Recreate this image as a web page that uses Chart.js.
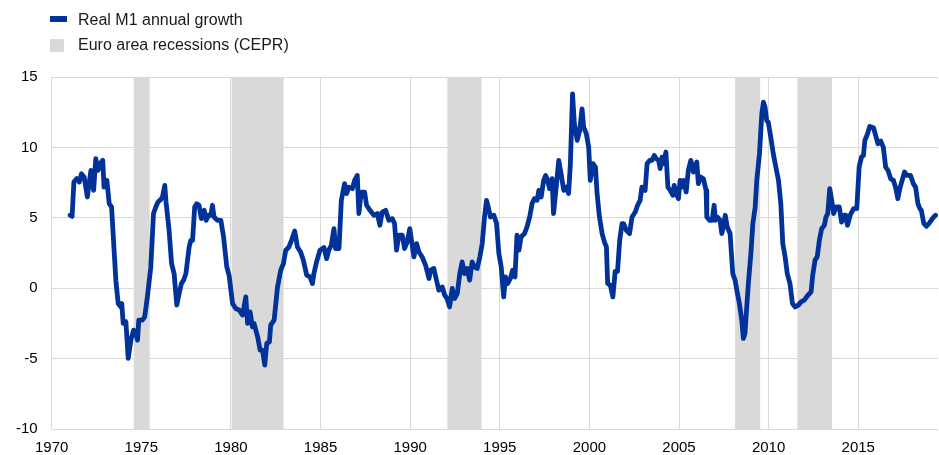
<!DOCTYPE html>
<html>
<head>
<meta charset="utf-8">
<script src="https://cdn.jsdelivr.net/npm/chart.js@4/dist/chart.umd.min.js"></script>
<style>
  body { margin: 0; background: #fff; font-family: "Liberation Sans", Arial, sans-serif; }
  #wrap { position: relative; width: 939px; height: 455px; }
  .legend { position: absolute; left: 50px; top: 7px; font-size: 16px; color: #1a1a1a; }
  .legend div { position: relative; height: 25px; line-height: 25px; padding-left: 28px; white-space: nowrap; }
  .legend span { position: absolute; left: 0; }
</style>
</head>
<body>
<div id="wrap">
  <div class="legend">
    <div><span style="top:9px;width:17px;height:6px;background:#003299"></span>Real M1 annual growth</div>
    <div><span style="top:7px;width:14px;height:13px;background:#d9d9d9"></span>Euro area recessions (CEPR)</div>
  </div>
  <canvas id="chart" width="939" height="455"></canvas>
</div>
<script>
// Real M1 annual growth (%), dates as decimal years
const dates = [
  1971.03, 1971.14, 1971.24, 1971.40, 1971.54, 1971.66, 1971.81, 1971.99, 1972.19, 1972.34,
  1972.46, 1972.59, 1972.70, 1972.85, 1972.92, 1973.08, 1973.21, 1973.34, 1973.45, 1973.58,
  1973.71, 1973.86, 1973.91, 1973.99, 1974.14, 1974.27, 1974.42, 1974.57, 1974.69, 1974.79,
  1974.86, 1975.06, 1975.19, 1975.34, 1975.53, 1975.68, 1975.81, 1975.93, 1976.08, 1976.18,
  1976.31, 1976.38, 1976.55, 1976.69, 1976.83, 1976.98, 1977.11, 1977.24, 1977.36, 1977.49,
  1977.58, 1977.67, 1977.76, 1977.86, 1977.98, 1978.09, 1978.22, 1978.35, 1978.51, 1978.62,
  1978.75, 1978.88, 1978.97, 1979.06, 1979.25, 1979.44, 1979.59, 1979.77, 1979.90, 1980.09,
  1980.27, 1980.46, 1980.65, 1980.83, 1980.93, 1981.07, 1981.20, 1981.29, 1981.49, 1981.63,
  1981.76, 1981.89, 1982.00, 1982.15, 1982.22, 1982.41, 1982.60, 1982.78, 1982.93, 1983.06,
  1983.24, 1983.38, 1983.56, 1983.71, 1983.89, 1984.04, 1984.23, 1984.41, 1984.55, 1984.63,
  1984.78, 1984.97, 1985.19, 1985.34, 1985.46, 1985.60, 1985.75, 1985.84, 1986.03, 1986.16,
  1986.34, 1986.45, 1986.58, 1986.78, 1986.90, 1987.05, 1987.14, 1987.27, 1987.46, 1987.57,
  1987.76, 1987.98, 1988.17, 1988.31, 1988.44, 1988.63, 1988.81, 1989.00, 1989.13, 1989.24,
  1989.37, 1989.56, 1989.69, 1989.83, 1989.98, 1990.21, 1990.36, 1990.49, 1990.67, 1990.86,
  1991.05, 1991.14, 1991.32, 1991.47, 1991.60, 1991.79, 1991.93, 1992.06, 1992.20, 1992.35,
  1992.48, 1992.63, 1992.77, 1992.90, 1993.03, 1993.18, 1993.32, 1993.46, 1993.58, 1993.74,
  1993.89, 1994.02, 1994.15, 1994.26, 1994.38, 1994.48, 1994.67, 1994.82, 1994.95, 1995.08,
  1995.22, 1995.32, 1995.44, 1995.59, 1995.72, 1995.85, 1995.96, 1996.07, 1996.19, 1996.38,
  1996.52, 1996.67, 1996.80, 1996.93, 1997.08, 1997.18, 1997.31, 1997.45, 1997.56, 1997.67,
  1997.78, 1997.92, 1998.00, 1998.15, 1998.29, 1998.42, 1998.57, 1998.72, 1998.84, 1998.94,
  1999.06, 1999.16, 1999.32, 1999.46, 1999.59, 1999.68, 1999.83, 1999.96, 2000.05, 2000.20,
  2000.34, 2000.43, 2000.56, 2000.71, 2000.84, 2000.95, 2001.02, 2001.17, 2001.31, 2001.44,
  2001.57, 2001.69, 2001.82, 2001.91, 2002.06, 2002.24, 2002.38, 2002.56, 2002.69, 2002.83,
  2002.93, 2003.11, 2003.22, 2003.36, 2003.49, 2003.62, 2003.73, 2003.86, 2003.95, 2004.05,
  2004.14, 2004.27, 2004.38, 2004.51, 2004.66, 2004.73, 2004.84, 2004.97, 2005.06, 2005.15,
  2005.25, 2005.40, 2005.52, 2005.66, 2005.80, 2005.90, 2005.99, 2006.08, 2006.21, 2006.36,
  2006.51, 2006.55, 2006.70, 2006.85, 2006.96, 2007.03, 2007.14, 2007.29, 2007.39, 2007.47,
  2007.58, 2007.69, 2007.85, 2008.00, 2008.13, 2008.26, 2008.37, 2008.50, 2008.59, 2008.68,
  2008.78, 2008.87, 2009.01, 2009.12, 2009.25, 2009.34, 2009.49, 2009.62, 2009.71, 2009.80,
  2009.89, 2009.98, 2010.12, 2010.26, 2010.42, 2010.55, 2010.68, 2010.79, 2010.92, 2011.04,
  2011.19, 2011.33, 2011.48, 2011.66, 2011.81, 2011.99, 2012.19, 2012.37, 2012.46, 2012.59,
  2012.71, 2012.83, 2012.96, 2013.11, 2013.20, 2013.30, 2013.41, 2013.52, 2013.63, 2013.76,
  2013.94, 2014.07, 2014.22, 2014.30, 2014.40, 2014.55, 2014.74, 2014.92, 2015.05, 2015.18,
  2015.29, 2015.37, 2015.52, 2015.64, 2015.85, 2015.97, 2016.10, 2016.25, 2016.40, 2016.53,
  2016.66, 2016.81, 2016.96, 2017.08, 2017.21, 2017.32, 2017.45, 2017.58, 2017.73, 2017.92,
  2018.07, 2018.20, 2018.33, 2018.44, 2018.52, 2018.66, 2018.81, 2018.94, 2019.07, 2019.21,
  2019.31
];
const m1Growth = [
  5.18, 5.10, 7.54, 7.78, 7.54, 8.13, 7.90, 6.48, 8.37, 6.95,
  9.20, 8.37, 8.84, 9.08, 7.18, 7.66, 6.00, 5.77, 3.40, 0.57,
  -1.09, -1.33, -1.09, -2.50, -2.39, -4.99, -3.69, -2.98, -3.10, -3.69,
  -2.27, -2.27, -2.03, -0.62, 1.51, 5.30, 5.77, 6.12, 6.29, 6.48,
  7.30, 6.12, 4.11, 1.75, 1.04, -1.20, -0.38, 0.33, 0.57, 1.04,
  1.99, 2.93, 3.40, 3.40, 5.77, 6.00, 5.89, 4.94, 5.53, 4.82,
  5.18, 5.18, 5.89, 5.06, 4.82, 4.82, 3.64, 1.51, 0.90, -1.09,
  -1.44, -1.56, -1.91, -0.62, -2.50, -1.68, -2.74, -2.50, -3.45, -4.40,
  -4.40, -5.46, -3.92, -3.81, -2.62, -2.27, 0.09, 1.28, 1.75, 2.70,
  2.93, 3.40, 4.06, 2.93, 2.57, 1.99, 0.92, 0.80, 0.33, 1.04,
  1.87, 2.70, 2.89, 2.10, 2.70, 3.05, 4.23, 2.82, 2.82, 6.24,
  7.43, 6.72, 7.18, 7.07, 7.66, 8.01, 5.30, 6.83, 6.83, 5.89,
  5.53, 5.18, 5.30, 4.47, 5.41, 5.53, 4.82, 4.94, 4.59, 2.70,
  3.76, 3.76, 2.82, 3.28, 4.23, 2.22, 3.17, 2.57, 2.22, 1.63,
  0.69, 1.28, 1.40, 0.57, -0.14, 0.09, -0.50, -0.73, -1.33, -0.02,
  -0.73, -0.38, 1.04, 1.87, 1.04, 1.40, 0.57, 1.87, 1.51, 1.40,
  2.22, 3.17, 5.06, 6.24, 5.65, 5.06, 5.18, 4.59, 2.46, 1.51,
  -0.62, 0.80, 0.33, 0.69, 1.28, 0.80, 3.76, 2.70, 3.64, 3.88,
  4.35, 5.06, 6.00, 6.36, 6.24, 6.95, 6.48, 7.66, 8.01, 7.66,
  7.07, 7.78, 5.30, 7.18, 9.08, 8.13, 6.95, 7.18, 6.72, 8.84,
  13.80, 11.68, 10.50, 11.20, 12.74, 11.44, 10.97, 10.02, 7.66, 8.84,
  8.60, 6.72, 5.06, 3.88, 3.28, 2.93, 0.33, 0.21, -0.62, 1.20,
  1.20, 3.40, 4.59, 4.59, 4.11, 3.88, 5.06, 5.41, 5.89, 6.24,
  7.18, 6.95, 8.84, 9.08, 9.08, 9.43, 9.20, 9.08, 8.49, 9.31,
  8.84, 9.67, 7.18, 6.95, 6.60, 7.30, 6.72, 6.36, 7.66, 7.18,
  7.66, 6.83, 8.37, 9.08, 8.25, 8.60, 8.96, 7.43, 7.90, 7.78,
  6.95, 5.06, 4.82, 4.82, 5.89, 4.82, 5.06, 4.82, 3.88, 4.35,
  5.18, 4.35, 3.88, 1.04, 0.57, -0.38, -1.09, -2.27, -3.57, -3.21,
  -1.33, 0.33, 2.46, 4.59, 5.77, 7.66, 9.55, 12.39, 13.21, 12.86,
  11.91, 11.79, 10.73, 9.55, 8.49, 7.66, 6.00, 3.17, 2.22, 1.04,
  0.33, -1.09, -1.33, -1.20, -0.97, -0.85, -0.50, -0.26, 0.92, 1.99,
  2.22, 3.40, 4.23, 4.47, 5.06, 5.30, 7.07, 6.24, 5.30, 5.77,
  5.77, 4.70, 5.18, 5.18, 4.47, 5.18, 5.65, 5.65, 8.60, 9.31,
  9.43, 10.50, 10.97, 11.49, 11.40, 10.85, 10.26, 10.45, 10.02, 8.60,
  8.37, 7.78, 7.66, 7.18, 6.36, 7.07, 7.66, 8.25, 8.01, 8.01,
  7.43, 7.18, 6.00, 5.65, 5.53, 4.59, 4.40, 4.59, 4.82, 5.06,
  5.18
];

// x axis tick labels (years)
const yearTicks = [1970, 1975, 1980, 1985, 1990, 1995, 2000, 2005, 2010, 2015];

// Euro area recessions (CEPR), start and end as decimal years
const recessionStart = [1974.58, 1980.04, 1992.08, 2008.13, 2011.60];
const recessionEnd = [1975.47, 1982.94, 1993.98, 2009.53, 2013.54];

const gridColor = "#d9d9d9";

// shade recession periods behind the line, above the grid
const recessionBands = {
  id: "recessionBands",
  beforeDatasetsDraw(chart) {
    const { ctx, chartArea, scales } = chart;
    ctx.save();
    ctx.fillStyle = "#d9d9d9";
    recessionStart.forEach((start, i) => {
      const x1 = scales.x.getPixelForValue(start);
      const x2 = scales.x.getPixelForValue(recessionEnd[i]);
      ctx.fillRect(x1, chartArea.top, x2 - x1, chartArea.bottom - chartArea.top);
    });
    ctx.restore();
  }
};

new Chart(document.getElementById("chart"), {
  type: "line",
  data: {
    datasets: [
      {
        label: "Real M1 annual growth",
        data: dates.map((d, i) => ({ x: d, y: m1Growth[i] })),
        borderColor: "#003299",
        borderWidth: 4.8,
        borderJoinStyle: "round",
        borderCapStyle: "round",
        pointRadius: 0,
        tension: 0
      }
    ]
  },
  options: {
    responsive: false,
    animation: false,
    devicePixelRatio: 1,
    layout: { padding: { top: 77, left: 2, right: 1, bottom: -12 } },
    plugins: {
      legend: { display: false },
      tooltip: { enabled: false }
    },
    scales: {
      x: {
        type: "linear",
        min: 1970,
        max: 2019.45,
        afterBuildTicks: (axis) => {
          axis.ticks = yearTicks.map((v) => ({ value: v }));
        },
        ticks: {
          autoSkip: false,
          maxRotation: 0,
          padding: 10,
          color: "#000",
          font: { family: "'Liberation Sans', Arial, sans-serif", size: 15 },
          callback: (v) => String(v)
        },
        grid: { color: gridColor, lineWidth: 1, drawTicks: false },
        border: { display: false }
      },
      y: {
        min: -10,
        max: 15,
        ticks: {
          stepSize: 5,
          padding: 14,
          color: "#000",
          font: { family: "'Liberation Sans', Arial, sans-serif", size: 15 }
        },
        grid: { color: gridColor, lineWidth: 1, drawTicks: false },
        border: { display: false }
      }
    }
  },
  plugins: [recessionBands]
});
</script>
</body>
</html>
